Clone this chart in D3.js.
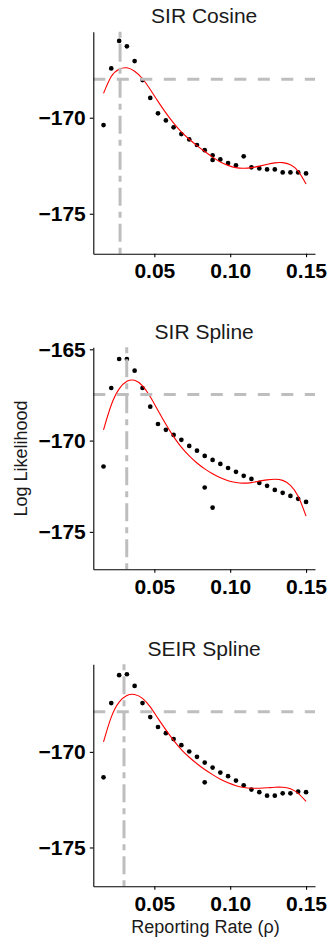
<!DOCTYPE html>
<html>
<head>
<meta charset="utf-8">
<script src="https://cdn.jsdelivr.net/npm/d3@7"></script>
<style>
  body { margin: 0; background: #fff; }
  text { font-family: 'Liberation Sans', Arial, sans-serif; }
</style>
</head>
<body>
<div id="chart"></div>
<script>
// reporting rate grid (x)
const rho = [0.0165, 0.0216, 0.0268, 0.0319, 0.0370, 0.0422, 0.0473, 0.0524, 0.0576,
  0.0627, 0.0678, 0.0730, 0.0781, 0.0832, 0.0884, 0.0935, 0.0986, 0.1038,
  0.1089, 0.1140, 0.1192, 0.1243, 0.1294, 0.1346, 0.1397, 0.1448, 0.1500]

const titles = ['SIR Cosine', 'SIR Spline', 'SEIR Spline']

// log likelihood points
const sirCosineLL = [-170.38, -167.43, -166.00, -166.28, -167.05, -168.04, -168.97, -169.77, -170.14,
  -170.50, -170.85, -171.13, -171.42, -171.69, -171.96, -172.17, -172.36, -172.48,
  -172.01, -172.58, -172.64, -172.69, -172.69, -172.85, -172.85, -172.85, -172.90]
const sirSplineLL = [-171.42, -167.12, -165.53, -165.53, -166.17, -167.12, -168.14, -169.09, -169.41,
  -169.69, -169.96, -170.29, -170.55, -170.84, -171.06, -171.28, -171.50, -171.71,
  -171.93, -172.10, -172.32, -172.48, -172.70, -172.86, -173.03, -173.19, -173.36]
const seirSplineLL = [-171.33, -167.45, -165.99, -165.94, -166.55, -167.45, -168.18, -168.70, -169.02,
  -169.33, -169.65, -169.98, -170.26, -170.56, -170.82, -171.08, -171.27, -171.50,
  -171.75, -171.97, -172.11, -172.29, -172.29, -172.17, -172.17, -172.08, -172.11]

// extra runs at repeated rho values
const sirCosineExtraRho = [0.0884]
const sirCosineExtraLL = [-172.20]
const sirSplineExtraRho = [0.0832, 0.0884]
const sirSplineExtraLL = [-172.57, -173.67]
const seirSplineExtraRho = [0.0832]
const seirSplineExtraLL = [-171.59]

// smoothed fit (red)
const sirCosineFit = [-168.73, -167.85, -167.47, -167.40, -167.58, -167.97, -168.53, -169.15, -169.75,
  -170.28, -170.74, -171.12, -171.45, -171.76, -172.05, -172.30, -172.48, -172.60,
  -172.63, -172.60, -172.52, -172.43, -172.35, -172.34, -172.45, -172.78, -173.45]
const sirSplineFit = [-169.41, -168.05, -167.17, -166.75, -166.70, -167.00, -167.60, -168.35, -169.10,
  -169.78, -170.36, -170.84, -171.23, -171.55, -171.82, -172.04, -172.20, -172.30,
  -172.33, -172.30, -172.22, -172.15, -172.12, -172.18, -172.45, -173.05, -174.14]
const seirSplineFit = [-169.48, -168.18, -167.40, -167.05, -167.00, -167.20, -167.65, -168.25, -168.85,
  -169.40, -169.88, -170.28, -170.62, -170.92, -171.19, -171.43, -171.62, -171.77,
  -171.86, -171.90, -171.90, -171.88, -171.85, -171.85, -171.93, -172.17, -172.59]

// reference lines: best rho (vertical) and likelihood cutoff (horizontal)
const refRho = [0.0274, 0.0318, 0.0300]
const refLL = [-168.0, -167.48, -167.9]

const yTicks = [[-170, -175], [-165, -170, -175], [-170, -175]]
const xTicks = [0.05, 0.10, 0.15]
const yDomains = [[-177.08, -165.52], [-177.05, -164.89], [-177.03, -165.42]]

const panels = [
  { ll: sirCosineLL, fit: sirCosineFit, exRho: sirCosineExtraRho, exLL: sirCosineExtraLL },
  { ll: sirSplineLL, fit: sirSplineFit, exRho: sirSplineExtraRho, exLL: sirSplineExtraLL },
  { ll: seirSplineLL, fit: seirSplineFit, exRho: seirSplineExtraRho, exLL: seirSplineExtraLL }
]

const W = 327
const H = 941
const left = 93.3
const right = 315
const panelTops = [31.7, 347.3, 664.3]
const panelH = 222

const svg = d3
  .select('#chart')
  .append('svg')
  .attr('width', W)
  .attr('height', H)

const x = d3.scaleLinear().domain([0.00976, 0.1559]).range([0, right - left])

panels.forEach((p, i) => {
  const g = svg
    .append('g')
    .attr('transform', 'translate(' + left + ',' + panelTops[i] + ')')

  const y = d3.scaleLinear().domain(yDomains[i]).range([panelH, 0])

  // points
  const pts = rho.map((r, j) => ({ r: r, v: p.ll[j] }))
    .concat(p.exRho.map((r, j) => ({ r: r, v: p.exLL[j] })))
  g.selectAll('circle')
    .data(pts)
    .enter()
    .append('circle')
    .attr('cx', d => x(d.r))
    .attr('cy', d => y(d.v))
    .attr('r', 2.35)
    .attr('fill', '#000')

  // fitted curve
  const line = d3
    .line()
    .x((d, j) => x(rho[j]))
    .y(d => y(d))
    .curve(d3.curveNatural)
  g.append('path')
    .datum(p.fit)
    .attr('d', line)
    .attr('fill', 'none')
    .attr('stroke', '#FF0000')
    .attr('stroke-width', 1.1)

  // reference lines
  g.append('line')
    .attr('x1', 0)
    .attr('x2', right - left)
    .attr('y1', y(refLL[i]))
    .attr('y2', y(refLL[i]))
    .attr('stroke', '#BEBEBE')
    .attr('stroke-width', 3)
    .attr('stroke-dasharray', '12,11.5')
  g.append('line')
    .attr('x1', x(refRho[i]))
    .attr('x2', x(refRho[i]))
    .attr('y1', 0)
    .attr('y2', panelH)
    .attr('stroke', '#BEBEBE')
    .attr('stroke-width', 3)
    .attr('stroke-dasharray', '6,6,18,6')

  // axes
  const yAxis = d3
    .axisLeft(y)
    .tickValues(yTicks[i])
    .tickSize(3.5)
    .tickSizeOuter(0)
    .tickPadding(4)
    .tickFormat(d3.format('d'))
  g.append('g')
    .attr('class', 'axis y-axis')
    .call(yAxis)

  const xAxis = d3
    .axisBottom(x)
    .tickValues(xTicks)
    .tickSize(3.5)
    .tickSizeOuter(0)
    .tickPadding(6)
    .tickFormat(d3.format('.2f'))
  g.append('g')
    .attr('class', 'axis x-axis')
    .attr('transform', 'translate(0,' + panelH + ')')
    .call(xAxis)

  g.selectAll('.axis text')
    .attr('font-size', 21)
    .attr('font-weight', 'bold')
    .attr('fill', '#000')
    .style('font-family', "'Liberation Sans', Arial, sans-serif")
  g.selectAll('.axis path, .axis line')
    .attr('stroke', '#000')
    .attr('stroke-width', 1.1)

  // title
  g.append('text')
    .text(titles[i])
    .attr('x', (right - left) / 2)
    .attr('y', -8.5)
    .attr('text-anchor', 'middle')
    .attr('font-size', 21)
    .attr('fill', '#1a1a1a')
})

svg
  .append('text')
  .text('Reporting Rate (ρ)')
  .attr('x', 205.5)
  .attr('y', 933)
  .attr('text-anchor', 'middle')
  .attr('font-size', 18)
  .attr('fill', '#1a1a1a')

svg
  .append('text')
  .text('Log Likelihood')
  .attr('transform', 'translate(27,458.5) rotate(-90)')
  .attr('text-anchor', 'middle')
  .attr('font-size', 18)
  .attr('fill', '#1a1a1a')
</script>
</body>
</html>
